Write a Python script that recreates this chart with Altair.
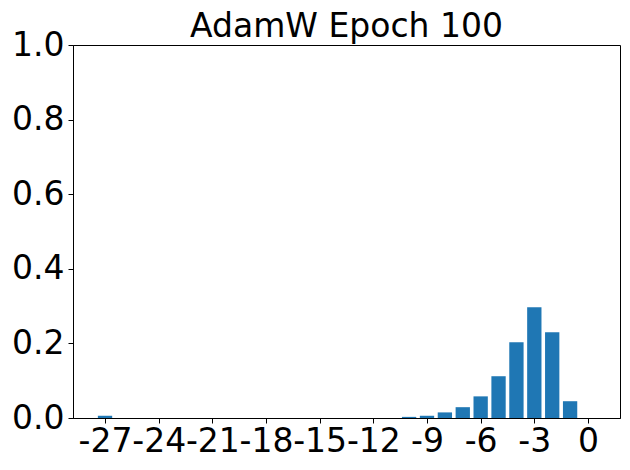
import altair as alt
import pandas as pd

positions = [-27, -10, -9, -8, -7, -6, -5, -4, -3, -2, -1, 0]
values = [0.006, 0.003, 0.006, 0.015, 0.029, 0.058, 0.112, 0.203, 0.297, 0.230, 0.045, 0.0]
x_ticks = [-27, -24, -21, -18, -15, -12, -9, -6, -3, 0]
y_ticks = [0.0, 0.2, 0.4, 0.6, 0.8, 1.0]
title = "AdamW Epoch 100"

df = pd.DataFrame({"pos": positions, "val": values})
df["x0"] = df["pos"] - 0.4
df["x1"] = df["pos"] + 0.4
df["base"] = 0.0

FONT = "DejaVu Sans"
FS = 33

chart = alt.Chart(df).mark_bar(color="#1f77b4").encode(
    x=alt.X("x0:Q", scale=alt.Scale(domain=[-28.79, 1.79], nice=False, zero=False),
            axis=alt.Axis(values=x_ticks, title=None, grid=False, labelFontSize=FS,
                          labelFont=FONT, labelColor="black", tickColor="black",
                          domainColor="black", tickSize=5, labelPadding=2,
                          labelFlush=False, labelOverlap=False,
                          labelExpr="toString(datum.value)")),
    x2="x1:Q",
    y=alt.Y("val:Q", scale=alt.Scale(domain=[0, 1], nice=False),
            axis=alt.Axis(values=y_ticks, title=None, grid=False, labelFontSize=FS,
                          labelFont=FONT, labelColor="black", tickColor="black",
                          domainColor="black", tickSize=5, labelPadding=4,
                          format=".1f", labelFlush=False)),
    y2="base:Q",
).properties(
    width=547, height=373,
    title=alt.TitleParams(title, fontSize=FS, font=FONT, fontWeight="normal",
                          color="black", offset=-15, anchor="middle", frame="group"),
    autosize=alt.AutoSizeParams(type="none"),
    padding={"left": 65, "top": 37, "right": 2, "bottom": 44},
).configure_view(stroke="black", strokeWidth=1)

chart.save("out.html", embed_options={"renderer": "svg", "actions": False})
